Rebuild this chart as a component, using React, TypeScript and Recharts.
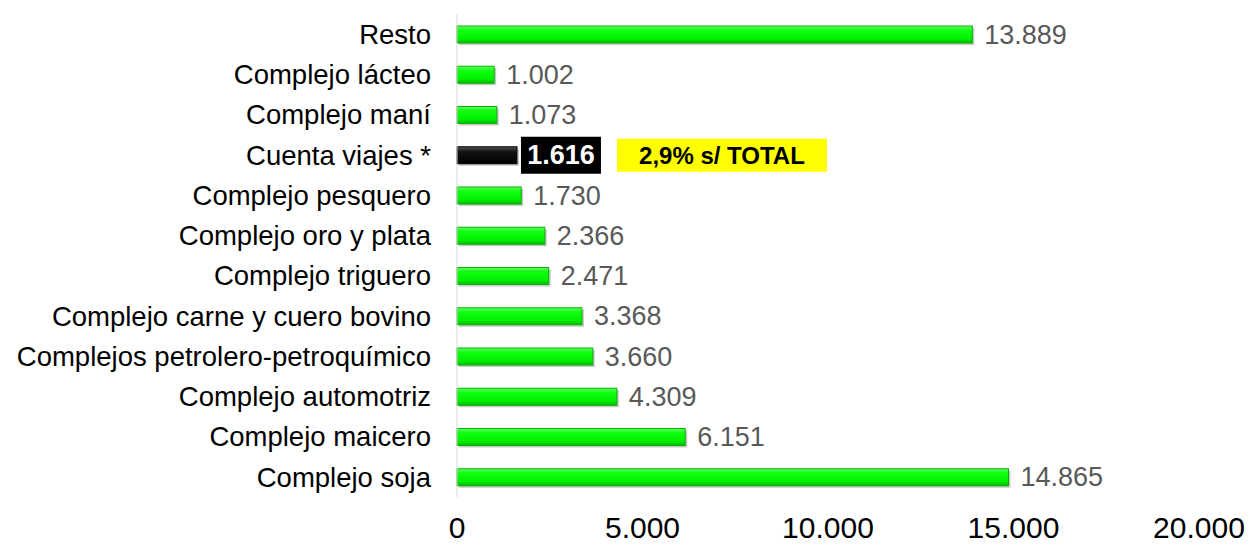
import { BarChart, Bar, XAxis, YAxis, LabelList } from "recharts";

// exportaciones por complejo, de arriba hacia abajo
const categories = [
  "Resto",
  "Complejo lácteo",
  "Complejo maní",
  "Cuenta viajes *",
  "Complejo pesquero",
  "Complejo oro y plata",
  "Complejo triguero",
  "Complejo carne y cuero bovino",
  "Complejos petrolero-petroquímico",
  "Complejo automotriz",
  "Complejo maicero",
  "Complejo soja",
];
const values = [13889, 1002, 1073, 1616, 1730, 2366, 2471, 3368, 3660, 4309, 6151, 14865];
const xTicks = [0, 5000, 10000, 15000, 20000];
const highlight = "Cuenta viajes *";
const highlightNote = "2,9% s/ TOTAL";

const data = categories.map((name, i) => ({ name, value: values[i] }));

const FONT = "'Liberation Sans', Arial, sans-serif";

const fmt = (v: number) => String(Math.round(v)).replace(/\B(?=(\d{3})+(?!\d))/g, ".");

const BarShape = (props: any) => {
  const { x, y, width, height, payload } = props;
  const dark = payload && payload.name === highlight;
  return (
    <g>
      <rect x={x + 2} y={y + 2} width={width} height={height} fill="rgba(0,0,0,0.22)" />
      <rect
        x={x}
        y={y}
        width={width}
        height={height}
        fill={dark ? "url(#gradDark)" : "url(#gradGreen)"}
        stroke={dark ? "#000000" : "#00b400"}
        strokeWidth={1}
      />
    </g>
  );
};

const ValueLabel = (props: any) => {
  const { x, y, width, height, value, index } = props;
  const end = x + width;
  const cy = y + height / 2;
  if (categories[index] === highlight) {
    return (
      <g>
        <rect x={end + 4} y={cy - 18.5} width={80} height={37} fill="#000000" />
        <text
          x={end + 44}
          y={cy}
          textAnchor="middle"
          dominantBaseline="central"
          fill="#ffffff"
          fontWeight="bold"
          fontSize={27}
          fontFamily={FONT}
        >
          {fmt(value)}
        </text>
        <rect x={end + 100} y={cy - 16.5} width={210} height={33} fill="#ffff00" />
        <text
          x={end + 205}
          y={cy}
          textAnchor="middle"
          dominantBaseline="central"
          fill="#000000"
          fontWeight="bold"
          fontSize={24}
          fontFamily={FONT}
        >
          {highlightNote}
        </text>
      </g>
    );
  }
  return (
    <text
      x={end + 12}
      y={cy}
      dominantBaseline="central"
      fill="#595959"
      fontSize={27}
      fontFamily={FONT}
    >
      {fmt(value)}
    </text>
  );
};

export default function App() {
  return (
    <div style={{ position: "absolute", left: 0, top: 0, background: "#fff" }}>
      <BarChart
        width={1251}
        height={548}
        data={data}
        layout="vertical"
        margin={{ top: 14, right: 52, left: 0, bottom: 0 }}
        barCategoryGap={0}
      >
        <defs>
          <linearGradient id="gradGreen" x1="0" y1="0" x2="0" y2="1">
            <stop offset="0%" stopColor="#66ff66" />
            <stop offset="25%" stopColor="#11ff11" />
            <stop offset="75%" stopColor="#00f000" />
            <stop offset="100%" stopColor="#00b800" />
          </linearGradient>
          <linearGradient id="gradDark" x1="0" y1="0" x2="0" y2="1">
            <stop offset="0%" stopColor="#555555" />
            <stop offset="30%" stopColor="#111111" />
            <stop offset="100%" stopColor="#000000" />
          </linearGradient>
        </defs>
        <XAxis
          type="number"
          domain={[0, 20000]}
          ticks={xTicks}
          tickFormatter={fmt}
          height={51}
          axisLine={false}
          tickLine={false}
          tickMargin={14}
          tick={{ fontSize: 30, fill: "#000000", fontFamily: FONT }}
        />
        <YAxis
          type="category"
          dataKey="name"
          width={457}
          tickLine={false}
          tickMargin={20}
          axisLine={{ stroke: "#d9d9d9", strokeWidth: 1 }}
          tick={{ fontSize: 27.5, fill: "#000000", fontFamily: FONT }}
          interval={0}
        />
        <Bar dataKey="value" barSize={17} shape={BarShape} isAnimationActive={false}>
          <LabelList dataKey="value" content={ValueLabel} />
        </Bar>
      </BarChart>
    </div>
  );
}
